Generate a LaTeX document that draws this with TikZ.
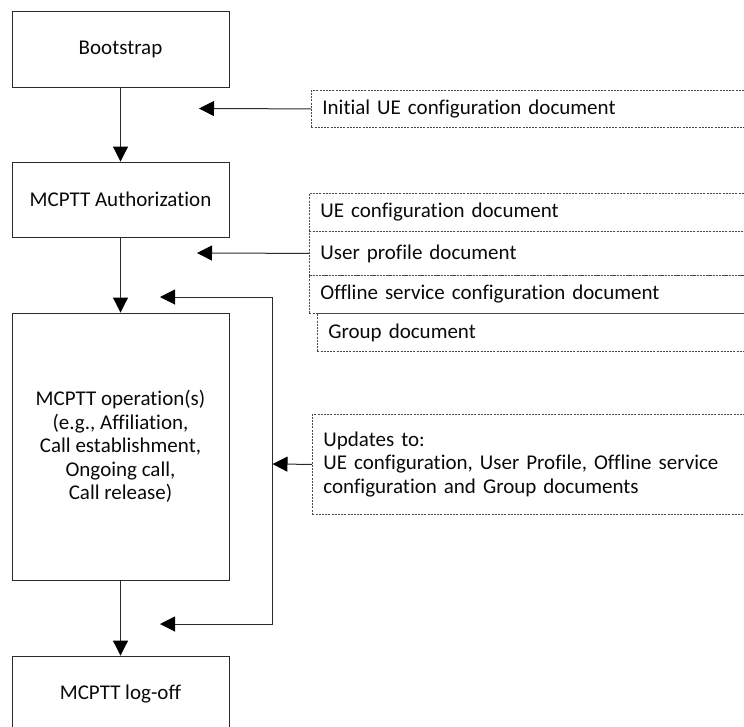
\documentclass[tikz,border=0pt]{standalone}
\usepackage{fontspec}
\setmainfont[Ligatures=NoCommon]{Carlito}
\usetikzlibrary{arrows.meta}
\definecolor{lineclr}{HTML}{2A2A2A}
\definecolor{dashclr}{HTML}{4A4A4A}
\definecolor{txtclr}{HTML}{0A0A0A}
\tikzset{
  stepbox/.style={draw=lineclr, line width=0.9pt, minimum width=217pt,
    inner sep=0pt, align=center, text=txtclr},
  docbox/.style={draw=dashclr, line width=0.8pt, dash pattern=on 2pt off 1.2pt,
    anchor=north west, inner xsep=11pt, inner ysep=0pt, align=left,
    text=txtclr},
  flow/.style={draw=lineclr, line width=1pt,
    -{Triangle[length=15pt,width=15pt,color=black]}},
}
\begin{document}
\begin{tikzpicture}[x=1pt, y=-1pt, font=\fontsize{21}{23.5}\selectfont]
\path[use as bounding box, clip] (0,0) rectangle (744,726);

% main sequence of steps
\node[stepbox, minimum height=76pt] (boot) at (120.5,49) {Bootstrap};
\node[stepbox, minimum height=75pt] (auth) at (120.5,199.5) {MCPTT Authorization};
\node[stepbox, minimum height=267pt] (ops) at (120.5,446.5)
  {MCPTT operation(s)\\(e.g., Affiliation,\\Call establishment,\\Ongoing call,\\Call release)};
\node[stepbox, minimum height=76pt] (logoff) at (120.5,694) {MCPTT log-off};

\draw[flow] (boot) -- (auth);
\draw[flow] (auth) -- (ops);
\draw[flow] (ops) -- (logoff);

% documents delivered to the UE
\node[docbox, minimum width=449pt, minimum height=37pt, text width=427pt] (iue) at (311,90)
  {Initial UE configuration document};
\node[docbox, minimum width=451pt, minimum height=38pt, text width=429pt] (uecfg) at (309,193)
  {UE configuration document};
\node[docbox, minimum width=451pt, minimum height=44pt, text width=429pt] (uprof) at (309,231)
  {User profile document};
\node[docbox, minimum width=451pt, minimum height=38pt, text width=429pt] (offl) at (309,275)
  {Offline service configuration document};
\node[docbox, minimum width=443pt, minimum height=38pt, text width=421pt] (grp) at (317,313)
  {Group document};
\node[docbox, minimum width=448pt, minimum height=100pt, text width=426pt] (upd) at (312,414)
  {Updates to:\\UE configuration, User Profile, Offline service\\configuration and Group documents};

% arrows from the documents
\coordinate (iueTip) at (199,108.5);
\coordinate (profTip) at (197,253);
\draw[flow] (iue.west) -- (iueTip);
\draw[flow] (uprof.west) -- (profTip);

% update loop back into operation
\coordinate (loopTop) at (272,297);
\coordinate (loopBot) at (272,624);
\coordinate (topTip) at (160,297);
\coordinate (botTip) at (160,624);
\coordinate (updTip) at (272.5,464);
\draw[flow] (loopBot) -- (loopTop) -- (topTip);
\draw[flow] (loopTop) -- (loopBot) -- (botTip);
\draw[flow] (upd.west) -- (updTip);
\end{tikzpicture}
\end{document}
